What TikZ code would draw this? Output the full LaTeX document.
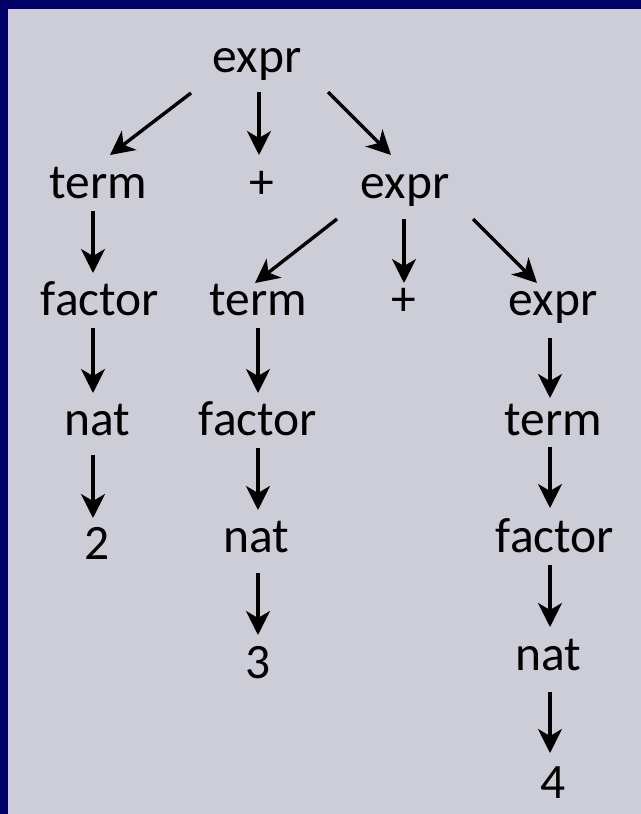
\documentclass[tikz,border=0pt]{standalone}
\usepackage{fontspec}
\setmainfont{Carlito}
\usetikzlibrary{arrows.meta,calc}
\definecolor{navy}{RGB}{0,0,102}
\definecolor{slide}{RGB}{205,205,215}
\begin{document}
\begin{tikzpicture}[x=1pt,y=-1pt,
  lbl/.style={font=\fontsize{49.5}{60}\selectfont, inner sep=0pt, anchor=base},
  arr/.style={line width=3.4pt, -{Stealth[length=24pt,width=24pt,inset=7pt]}}]
\useasboundingbox (0,0) rectangle (640,814);
\fill[slide] (-20,-20) rectangle (660,834);
\fill[navy] (-20,-20) rectangle (660,9);
\fill[navy] (-20,-20) rectangle (8,834);
\node[lbl] (e0) at (257,72) {expr};
\node[lbl] (t1) at (98,198) {term};
\node[lbl] (p1) at (262,198) {+};
\node[lbl] (e1) at (405,198) {expr};
\node[lbl] (f2) at (100,315) {factor};
\node[lbl] (t2) at (258,315) {term};
\node[lbl] (p2) at (404,315) {+};
\node[lbl] (e2) at (553,315) {expr};
\node[lbl] (n3) at (97,435) {nat};
\node[lbl] (f3) at (258,435) {factor};
\node[lbl] (t3) at (553,435) {term};
\node[lbl] (d4) at (97,559) {2};
\node[lbl] (n4) at (256,552) {nat};
\node[lbl] (f4) at (555,552) {factor};
\node[lbl] (d5) at (258,678) {3};
\node[lbl] (n5) at (548,670) {nat};
\node[lbl] (d6) at (553,798) {4};
% level 0 -> 1
\draw[arr] ($(e0.base)+(-66,21)$) -- ($(t1.base)+(12,-43)$);
\draw[arr] ($(e0.base)+(2,20)$) -- ($(p1.base)+(-3,-43)$);
\draw[arr] ($(e0.base)+(71,20)$) -- ($(e1.base)+(-14,-43)$);
% level 1 -> 2
\draw[arr] ($(e1.base)+(-68,21)$) -- ($(t2.base)+(-3,-32)$);
\draw[arr] ($(e1.base)+(-1,21)$) -- ($(p2.base)+(0,-32)$);
\draw[arr] ($(e1.base)+(68,21)$) -- ($(e2.base)+(-16,-32)$);
% column 1
\draw[arr] ($(t1.base)+(-5,13)$) -- ($(f2.base)+(-7,-42)$);
\draw[arr] ($(f2.base)+(-7,13)$) -- ($(n3.base)+(-4,-42)$);
\draw[arr] ($(n3.base)+(-4,20)$) -- ($(d4.base)+(-4,-41)$);
% column 2
\draw[arr] ($(t2.base)+(0,13)$) -- ($(f3.base)+(0,-42)$);
\draw[arr] ($(f3.base)+(0,13)$) -- ($(n4.base)+(2,-42)$);
\draw[arr] ($(n4.base)+(2,21)$) -- ($(d5.base)+(0,-43)$);
% column 4
\draw[arr] ($(e2.base)+(-3,23)$) -- ($(t3.base)+(-3,-37)$);
\draw[arr] ($(t3.base)+(-3,12)$) -- ($(f4.base)+(-5,-44)$);
\draw[arr] ($(f4.base)+(-5,13)$) -- ($(n5.base)+(2,-43)$);
\draw[arr] ($(n5.base)+(2,22)$) -- ($(d6.base)+(-3,-45)$);
\end{tikzpicture}
\end{document}
